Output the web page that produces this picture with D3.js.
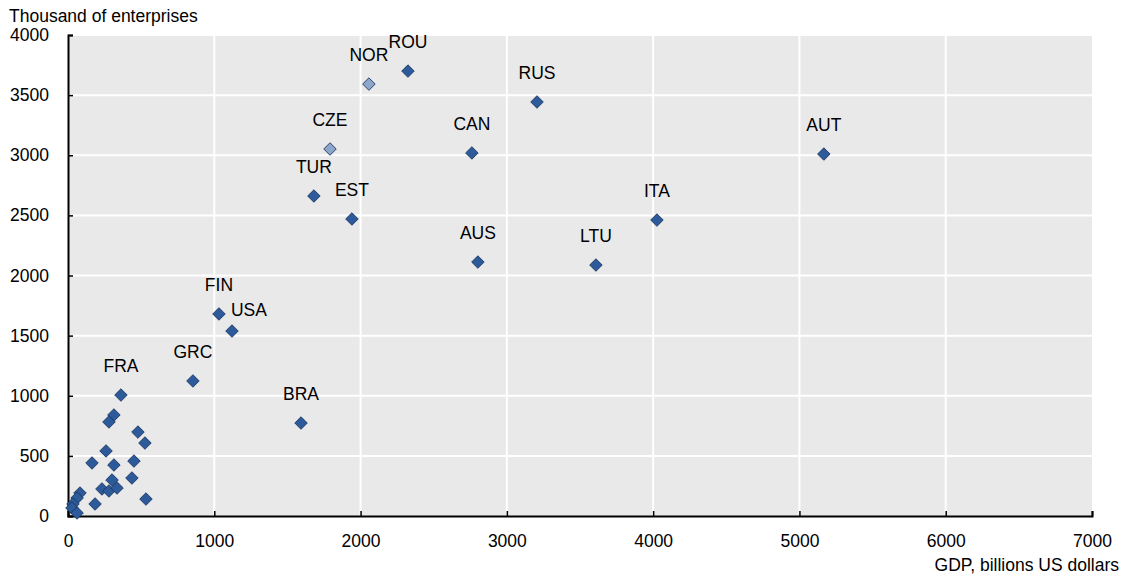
<!DOCTYPE html>
<html>
<head>
<meta charset="utf-8">
<script src="https://cdn.jsdelivr.net/npm/d3@7"></script>
<style>
  body { margin: 0; background: #fff; }
  text { font-family: "Liberation Sans", Arial, sans-serif; fill: #000; }
</style>
</head>
<body>
<svg id="chart" width="1125" height="581"></svg>
<script>
// Labelled countries
const labels = ["ROU","NOR","RUS","CZE","CAN","AUT","TUR","EST","ITA","AUS","LTU","FIN","USA","GRC","BRA","FRA"];
const labelGdp = [2324,2057,3206,1791,2761,5167,1681,1941,4026,2802,3609,1032,1121,854,1593,362];
const labelEnt = [3700,3592,3443,3052,3019,3010,2661,2470,2461,2112,2087,1680,1538,1123,773,1006];
const labelHighlight = [0,1,0,1,0,0,0,0,0,0,0,0,0,0,0,0];
// Unlabelled countries
const otherGdp = [314,280,478,526,260,164,314,451,437,301,232,280,335,533,185,82,62,34,27,62];
const otherEnt = [840,782,698,607,541,441,424,457,316,299,225,208,233,141,100,191,150,100,67,25];
// Axis ticks
const xTicks = [0,1000,2000,3000,4000,5000,6000,7000];
const yTicks = [0,500,1000,1500,2000,2500,3000,3500,4000];

const FS = 17.5;
const svg = d3.select("#chart");
const m = {left: 68, right: 1092, top: 35, bottom: 516};
const x = d3.scaleLinear().domain([0,7000]).range([m.left, m.right]);
const y = d3.scaleLinear().domain([0,4000]).range([m.bottom, m.top]);

svg.append("rect").attr("x", m.left).attr("y", m.top)
  .attr("width", m.right - m.left).attr("height", m.bottom - m.top)
  .attr("fill", "#e9e9e9");

// gridlines
svg.append("g").selectAll("line").data(xTicks.slice(1, -1)).join("line")
  .attr("x1", d => x(d)).attr("x2", d => x(d)).attr("y1", m.top).attr("y2", m.bottom)
  .attr("stroke", "#fff").attr("stroke-width", 2);
svg.append("g").selectAll("line").data(yTicks.slice(1)).join("line")
  .attr("x1", m.left).attr("x2", m.right).attr("y1", d => y(d)).attr("y2", d => y(d))
  .attr("stroke", "#fff").attr("stroke-width", 2);

// axes
const xAxis = svg.append("g").attr("transform", `translate(0,${m.bottom})`)
  .call(d3.axisBottom(x).tickValues(xTicks).tickFormat(d3.format("d")).tickSizeInner(-5).tickSizeOuter(-5).tickPadding(20));
const yAxis = svg.append("g").attr("transform", `translate(${m.left},0)`)
  .call(d3.axisLeft(y).tickValues(yTicks).tickFormat(d3.format("d")).tickSizeInner(-5).tickSizeOuter(-5).tickPadding(19));
[xAxis, yAxis].forEach(a => {
  a.select(".domain").attr("stroke", "#000").attr("stroke-width", 2);
  a.selectAll(".tick line").attr("stroke", "#000").attr("stroke-width", 1.5);
  a.selectAll(".tick text").attr("font-size", FS).attr("fill", "#000")
    .attr("font-family", "'Liberation Sans', Arial, sans-serif");
});
xAxis.selectAll(".tick text").attr("dy", "0.6em");

// axis titles
svg.append("text").attr("x", 9).attr("y", 22).attr("font-size", FS).text("Thousand of enterprises");
svg.append("text").attr("x", 1119).attr("y", 571).attr("font-size", FS)
  .attr("text-anchor", "end").text("GDP, billions US dollars");

const diamond = d3.symbol().type(d3.symbolDiamond2).size(100);
const dark = "#2d5a9b", light = "#8ea6cb";

const others = otherGdp.map((g, i) => ({g, e: otherEnt[i]}));
svg.append("g").selectAll("path").data(others).join("path")
  .attr("d", diamond)
  .attr("transform", d => `translate(${x(d.g)},${y(d.e)})`)
  .attr("fill", dark).attr("stroke", "#1c355e").attr("stroke-width", 0.9);

const lab = labels.map((c, i) => ({c, g: labelGdp[i], e: labelEnt[i], h: labelHighlight[i]}));
svg.append("g").selectAll("path").data(lab).join("path")
  .attr("d", diamond)
  .attr("transform", d => `translate(${x(d.g)},${y(d.e)})`)
  .attr("fill", d => d.h ? light : dark).attr("stroke", "#1c355e").attr("stroke-width", 0.9);

svg.append("g").selectAll("text").data(lab).join("text")
  .attr("x", d => x(d.g) + (d.c === "USA" ? 17 : 0))
  .attr("y", d => y(d.e) - (d.c === "USA" ? 21 : 29))
  .attr("dy", "0.35em")
  .attr("text-anchor", "middle").attr("font-size", FS)
  .text(d => d.c);
</script>
</body>
</html>
